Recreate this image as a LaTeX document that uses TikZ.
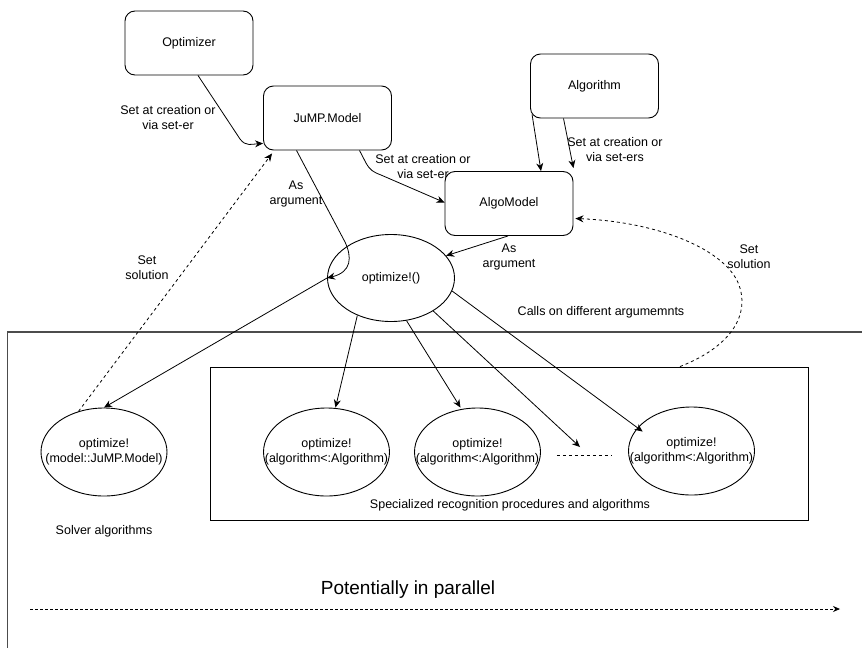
\documentclass[tikz,border=0pt]{standalone}
\usepackage{fontspec}
\setmainfont{Liberation Sans}
\usetikzlibrary{arrows.meta,calc,shapes.geometric}
\begin{document}
\begin{tikzpicture}[x=1pt,y=-1pt,
  every node/.style={font=\fontsize{12.5}{15}\selectfont},
  box/.style={draw,rounded corners=10pt,line width=0.9pt,minimum width=128pt,minimum height=64pt,inner sep=0pt},
  ell/.style={draw,ellipse,line width=0.9pt,minimum width=126pt,minimum height=88pt,inner sep=0pt},
  lbl/.style={align=center,inner sep=0pt},
  arr/.style={line width=0.8pt,-{Stealth[length=8pt,width=7pt]}},
  darr/.style={line width=0.8pt,dash pattern=on 3pt off 3pt,-{Stealth[length=8pt,width=7pt]}}
]
\useasboundingbox (0,0) rectangle (862,648);
% frames
\draw[line width=1.3pt,gray!60!black] (862,332) -- (7.5,332) -- (7.5,648);
\node[draw,line width=0.9pt,minimum width=598pt,minimum height=153pt,inner sep=0pt] (inner) at (509,443.5) {};
% nodes
\node[box] (optz) at (189,43) {Optimizer};
\node[box] (jump) at (327.5,118) {JuMP.Model};
\node[box] (algo) at (594.5,86) {Algorithm};
\node[ell,minimum width=127pt,minimum height=87pt] (opt) at (391,278) {};
\node[lbl] (topt) at (opt) {optimize!()};
\node[ell] (s1) at (104,452) {};
\node[lbl] (ts1) at (s1) {optimize!\\(model::JuMP.Model)};
\node[ell] (e2) at (326.5,452) {};
\node[lbl] (te2) at (e2) {optimize!\\(algorithm<:Algorithm)};
\node[ell] (e3) at (477.5,452) {};
\node[lbl] (te3) at (e3) {optimize!\\(algorithm<:Algorithm)};
\node[ell] (e4) at (691.5,451) {};
\node[lbl] (te4) at (e4) {optimize!\\(algorithm<:Algorithm)};
% labels
\node[lbl] (l1) at (168,118) {Set at creation or\\via set-er};
\node[lbl] (l2) at (423,167) {Set at creation or\\via set-er};
\node[box,fill=white] (am) at (509,203.5) {AlgoModel};
\node[lbl] (l3) at (615,150) {Set at creation or\\via set-ers};
\node[lbl] (l4) at (296,194) {As\\argument};
\node[lbl] (l5) at (509,257) {As\\argument};
\node[lbl] (l6) at (147,268) {Set\\solution};
\node[lbl] (l7) at (749,257) {Set\\solution};
\node[lbl] (l8) at (601,312) {Calls on different argumemnts};
\node[lbl] (l9) at (104,531) {Solver algorithms};
\node[lbl] (l10) at (510,505) {Specialized recognition procedures and algorithms};
\node[lbl,font=\fontsize{19}{22}\selectfont] (l11) at (408,590) {Potentially in parallel};
% connectors
\draw[arr] ($(optz.south)+(9,0)$) -- (240,139) .. controls (246,147) and (252,144) .. ($(jump.south west)+(0,-7)$);
\draw[arr] ($(jump.south)+(32,0)$) -- (366,163) .. controls (370,170) and (373,172) .. (381,175) -- ($(am.west)+(0,-1)$);
\draw[arr] ($(jump.south)+(-31,0)$) -- (345,242) .. controls (352,257) and (352,272) .. (opt.west);
\draw[arr] ($(algo.south west)+(2,-4)$) -- ($(am.north)+(32,0)$);
\draw[arr] ($(algo.south)+(-31,0)$) -- ($(am.north east)+(0,-3)$);
\draw[arr] ($(am.south)+(-1,0)$) -- (opt.22);
\draw[arr] (opt.west) -- (s1.north);
\draw[arr] (opt.-132) -- ($(e2.north)+(9,0)$);
\draw[arr] (opt.-70) -- ($(e3.north)+(-17,0)$);
\coordinate (ph) at (580,447);
\draw[arr] (opt.-38) -- (ph);
\draw[arr] (opt.-12) -- ($(e4.north west)+(-4,12)$);
\draw[line width=0.8pt,dash pattern=on 3pt off 3pt] ($(e3.east)+(16,3)$) -- ($(e4.west)+(-16,4)$);
\draw[darr] (s1.122) -- ($(jump.south west)+(9,3)$);
\draw[darr] ($(inner.north)+(171,0)$) .. controls (735,345) and (749,312) .. (739,285) .. controls (726,250) and (660,222) .. ($(am.east)+(2,15)$);
\coordinate (pa) at (30,609);
\coordinate (pb) at (840,609);
\draw[line width=0.8pt,dash pattern=on 2.5pt off 2.5pt,-{Stealth[length=7pt,width=6pt]}] (pa) -- (pb);
\end{tikzpicture}
\end{document}
